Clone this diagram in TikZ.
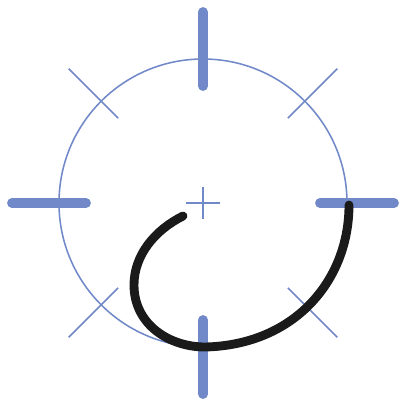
\documentclass[tikz,border=0pt]{standalone}
\usepackage{xcolor}
\usepackage{tikz}
\usetikzlibrary{calc}
\definecolor{dialcol}{HTML}{7189C8}
\definecolor{pathcol}{HTML}{1A1A1A}

\begin{document}
\begin{tikzpicture}[
  x=0.025cm, y=0.025cm,
  dialline/.style={dialcol, line width=1.1pt},
  majortick/.style={dialcol, line width=7pt, line cap=round},
  minortick/.style={dialcol, line width=1.1pt},
  trace/.style={pathcol, line width=6.3pt, line cap=round}
]
\useasboundingbox (-203,-201) rectangle (202,203);
\coordinate (centre) at (0,0);

% dial
\draw[dialline] (centre) circle (144);
\foreach \a in {0,90,180,270}
  \draw[majortick] (\a:117) -- (\a:191);
\foreach \a in {45,135,225,315}
  \draw[minortick] (\a:120) -- (\a:190);
\draw[minortick, line width=0.9pt] (-17,0) -- (17,0);
\draw[minortick, line width=0.9pt] (0,-16) -- (0,16);

% traced path
\coordinate (p0) at (-20,-13);
\coordinate (p1) at (-69,-82);
\coordinate (p2) at (2,-144);
\coordinate (p3) at (146,-2);
\draw[trace] (p0) .. controls (-48,-27) and (-69,-52) .. (p1)
  .. controls (-69,-122) and (-33,-144) .. (p2)
  .. controls (92,-142) and (146,-77) .. (p3);
\end{tikzpicture}
\end{document}
